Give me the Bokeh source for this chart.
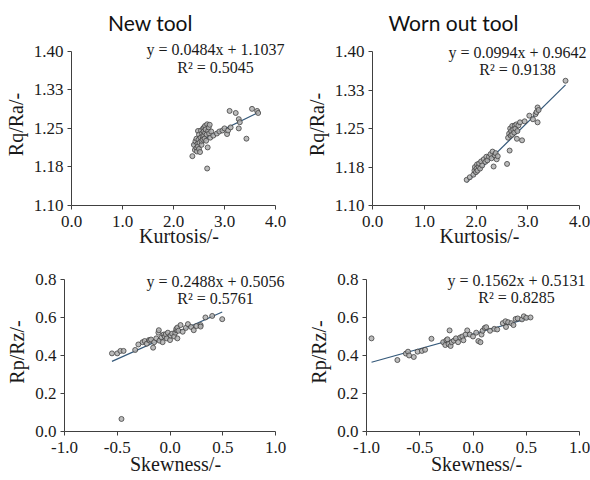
from bokeh.plotting import figure
from bokeh.models import Range1d, FixedTicker, Label, Plot
from bokeh.layouts import row, column
from bokeh.embed import file_html
from bokeh.resources import INLINE

# ---------------- data ----------------
titles = ["New tool", "Worn out tool"]

kurt_ticks = [0.0, 1.0, 2.0, 3.0, 4.0]
kurt_tick_labels = ["0.0", "1.0", "2.0", "3.0", "4.0"]
rqra_ticks = [1.10, 1.175, 1.25, 1.325, 1.40]
rqra_tick_labels = ["1.10", "1.18", "1.25", "1.33", "1.40"]
skew_ticks = [-1.0, -0.5, 0.0, 0.5, 1.0]
skew_tick_labels = ["-1.0", "-0.5", "0.0", "0.5", "1.0"]
rprz_ticks = [0.0, 0.2, 0.4, 0.6, 0.8]
rprz_tick_labels = ["0.0", "0.2", "0.4", "0.6", "0.8"]

# New tool: kurtosis vs Rq/Ra
kurt_new = [2.37, 2.40, 2.42, 2.43, 2.45, 2.45, 2.46, 2.47, 2.48, 2.48,
            2.49, 2.50, 2.50, 2.51, 2.52, 2.53, 2.54, 2.55, 2.55, 2.56,
            2.57, 2.58, 2.58, 2.59, 2.60, 2.60, 2.61, 2.62, 2.62, 2.63,
            2.64, 2.65, 2.66, 2.66, 2.67, 2.68, 2.69, 2.70, 2.71, 2.72,
            2.74, 2.78, 2.85, 2.90, 2.96, 3.00, 3.05, 3.07, 3.10, 3.12,
            3.22, 3.28, 3.28, 3.30, 3.43, 3.54, 3.64, 3.66]
rqra_new = [1.196, 1.218, 1.208, 1.225, 1.212, 1.230, 1.205, 1.220, 1.245, 1.215,
            1.228, 1.210, 1.238, 1.222, 1.204, 1.232, 1.246, 1.218, 1.226, 1.240,
            1.235, 1.250, 1.228, 1.244, 1.236, 1.252, 1.230, 1.241, 1.255, 1.248,
            1.226, 1.238, 1.172, 1.258, 1.213, 1.245, 1.252, 1.240, 1.257, 1.232,
            1.244, 1.236, 1.240, 1.244, 1.246, 1.250, 1.239, 1.246, 1.284, 1.252,
            1.280, 1.268, 1.250, 1.262, 1.230, 1.288, 1.284, 1.280]

# Worn out tool: kurtosis vs Rq/Ra
kurt_worn = [1.82, 1.88, 1.95, 1.97, 1.98, 2.00, 2.01, 2.02, 2.03, 2.05,
             2.06, 2.08, 2.10, 2.12, 2.15, 2.18, 2.20, 2.22, 2.25, 2.28,
             2.30, 2.32, 2.34, 2.36, 2.38, 2.40, 2.42, 2.60, 2.62, 2.64,
             2.65, 2.66, 2.67, 2.68, 2.70, 2.70, 2.72, 2.74, 2.75, 2.76,
             2.78, 2.79, 2.80, 2.82, 2.85, 2.89, 2.94, 3.03, 3.10, 3.15,
             3.17, 3.19, 3.19, 3.21, 3.73]
rqra_worn = [1.150, 1.155, 1.160, 1.168, 1.175, 1.165, 1.172, 1.180, 1.168, 1.176,
             1.182, 1.172, 1.186, 1.178, 1.190, 1.185, 1.195, 1.188, 1.195, 1.200,
             1.192, 1.205, 1.176, 1.198, 1.202, 1.190, 1.196, 1.181, 1.232, 1.240,
             1.207, 1.250, 1.236, 1.245, 1.255, 1.238, 1.248, 1.242, 1.256, 1.250,
             1.258, 1.230, 1.245, 1.256, 1.262, 1.227, 1.264, 1.275, 1.268, 1.278,
             1.282, 1.262, 1.291, 1.286, 1.343]

# New tool: skewness vs Rp/Rz
skew_new = [-0.55, -0.50, -0.47, -0.44, -0.46, -0.33, -0.30, -0.26, -0.24, -0.22,
            -0.20, -0.19, -0.18, -0.16, -0.15, -0.13, -0.11, -0.106, -0.10, -0.08,
            -0.07, -0.06, -0.05, -0.04, -0.03, -0.02, 0.00, 0.005, 0.02, 0.04,
            0.05, 0.06, 0.06, 0.07, 0.07, 0.08, 0.10, 0.12, 0.15, 0.17,
            0.20, 0.225, 0.25, 0.29, 0.29, 0.336, 0.40, 0.495]
rprz_new = [0.411, 0.411, 0.424, 0.424, 0.066, 0.429, 0.458, 0.470, 0.476, 0.462,
            0.481, 0.478, 0.484, 0.441, 0.470, 0.490, 0.520, 0.533, 0.478, 0.495,
            0.470, 0.510, 0.500, 0.512, 0.490, 0.520, 0.481, 0.505, 0.515, 0.500,
            0.520, 0.533, 0.540, 0.547, 0.490, 0.530, 0.560, 0.525, 0.545, 0.565,
            0.550, 0.533, 0.555, 0.560, 0.552, 0.600, 0.608, 0.591]

# Worn out tool: skewness vs Rp/Rz
skew_worn = [-0.953, -0.71, -0.63, -0.61, -0.60, -0.556, -0.52, -0.48, -0.45, -0.39,
             -0.28, -0.26, -0.25, -0.24, -0.23, -0.22, -0.21, -0.20, -0.18, -0.16,
             -0.14, -0.12, -0.10, -0.09, -0.07, -0.054, -0.03, 0.00, 0.03, 0.05,
             0.07, 0.08, 0.09, 0.11, 0.124, 0.16, 0.20, 0.227, 0.28, 0.305,
             0.31, 0.33, 0.36, 0.38, 0.40, 0.42, 0.46, 0.477, 0.50, 0.54]
rprz_worn = [0.490, 0.376, 0.410, 0.420, 0.400, 0.392, 0.420, 0.424, 0.430, 0.488,
             0.470, 0.455, 0.480, 0.485, 0.460, 0.532, 0.450, 0.470, 0.478, 0.490,
             0.470, 0.495, 0.500, 0.480, 0.510, 0.532, 0.510, 0.500, 0.520, 0.476,
             0.470, 0.510, 0.530, 0.545, 0.549, 0.530, 0.540, 0.537, 0.570, 0.580,
             0.550, 0.575, 0.570, 0.560, 0.592, 0.595, 0.590, 0.606, 0.598, 0.600]

# trendline: slope, intercept, R^2
fits = [
    (0.0484, 1.1037, 0.5045),
    (0.0994, 0.9642, 0.9138),
    (0.2488, 0.5056, 0.5761),
    (0.1562, 0.5131, 0.8285),
]

SERIF = "Liberation Serif"
SANS = "Lato"
AXIS_COLOR = "#404040"
TEXT_COLOR = "#1a1a1a"


def panel(xs, ys, fit, xt, xtl, yt, ytl, xlabel, ylabel,
          width, height, borders, axis_px, eq_pos, xlab_standoff):
    left, right, top, bottom = borders
    fw = width - left - right
    fh = height - top - bottom
    ax_w, ax_h = axis_px
    # frame extends a little beyond the axis extent (right / top) so the
    # trendline labels are not clipped; axis lines are bounded to the ticks
    x_end = xt[0] + (xt[-1] - xt[0]) * fw / ax_w
    y_end = yt[0] + (yt[-1] - yt[0]) * fh / ax_h
    p = figure(width=width, height=height, output_backend="svg", title=None,
               toolbar_location=None,
               x_range=Range1d(xt[0], x_end), y_range=Range1d(yt[0], y_end),
               min_border_left=left, min_border_right=right,
               min_border_top=top, min_border_bottom=bottom)
    p.outline_line_color = None
    p.grid.visible = False
    p.background_fill_color = "white"
    p.border_fill_color = "white"
    for ax, ticks, labels, lab in ((p.xaxis[0], xt, xtl, xlabel),
                                   (p.yaxis[0], yt, ytl, ylabel)):
        ax.ticker = FixedTicker(ticks=ticks)
        ax.bounds = (ticks[0], ticks[-1])
        ax.major_label_overrides = {t: l for t, l in zip(ticks, labels)}
        ax.axis_line_color = AXIS_COLOR
        ax.major_tick_line_color = AXIS_COLOR
        ax.major_tick_out = 4
        ax.major_tick_in = 0
        ax.minor_tick_line_color = None
        ax.major_label_text_font = SERIF
        ax.major_label_text_font_size = "17px"
        ax.major_label_text_color = TEXT_COLOR
        ax.axis_label = lab
        ax.axis_label_text_font = SERIF
        ax.axis_label_text_font_size = "20px"
        ax.axis_label_text_font_style = "normal"
        ax.axis_label_text_color = TEXT_COLOR
    p.xaxis[0].major_label_standoff = 6
    p.xaxis[0].axis_label_standoff = xlab_standoff
    p.yaxis[0].major_label_standoff = 4
    p.yaxis[0].axis_label_standoff = 4

    slope, intercept, r2 = fit
    x0, x1 = min(xs), max(xs)
    p.line([x0, x1], [slope * x0 + intercept, slope * x1 + intercept],
           line_color="#35597a", line_width=1.2)
    p.scatter(xs, ys, size=5, fill_color="#b0b0b0", line_color="#404040",
              line_width=0.8, fill_alpha=0.85)

    ex, ey1, ey2 = eq_pos
    p.add_layout(Label(x=ex, y=ey1, x_units="screen", y_units="screen",
                       text=f"y = {slope:.4f}x + {intercept:.4f}",
                       text_align="center", text_baseline="middle",
                       text_font=SERIF, text_font_size="16px",
                       text_color=TEXT_COLOR))
    p.add_layout(Label(x=ex, y=ey2, x_units="screen", y_units="screen",
                       text=f"R\u00b2 = {r2:.4f}",
                       text_align="center", text_baseline="middle",
                       text_font=SERIF, text_font_size="16px",
                       text_color=TEXT_COLOR))
    return p


# header with the two column titles
header = Plot(width=590, height=36, min_border=0, toolbar_location=None,
              output_backend="svg", outline_line_color=None, title=None,
              x_range=Range1d(0, 1), y_range=Range1d(0, 1))
for tx, t in zip((150, 453), titles):
    header.add_layout(Label(x=tx, y=14, x_units="screen", y_units="screen",
                            text=t, text_align="center", text_baseline="middle",
                            text_font=SANS, text_font_size="21px",
                            text_color="#111111"))

p1 = panel(kurt_new, rqra_new, fits[0],
           kurt_ticks, kurt_tick_labels, rqra_ticks, rqra_tick_labels,
           "Kurtosis/-", "Rq/Ra/-", 298, 220, (71, 12, 6, 48), (204, 158),
           (144, 156, 138), -5)
p2 = panel(kurt_worn, rqra_worn, fits[1],
           kurt_ticks, kurt_tick_labels, rqra_ticks, rqra_tick_labels,
           "Kurtosis/-", "Rq/Ra/-", 292, 220, (74, 4, 7, 51), (207, 154),
           (145, 153, 136), -5)
p3 = panel(skew_new, rprz_new, fits[2],
           skew_ticks, skew_tick_labels, rprz_ticks, rprz_tick_labels,
           "Skewness/-", "Rp/Rz/-", 298, 224, (64, 12, 16, 48), (211, 153),
           (151, 150, 133), -3)
p4 = panel(skew_worn, rprz_worn, fits[3],
           skew_ticks, skew_tick_labels, rprz_ticks, rprz_tick_labels,
           "Skewness/-", "Rp/Rz/-", 292, 224, (68, 4, 15, 49), (213, 153),
           (150, 151, 134), -3)

layout = column(header, row(p1, p2), row(p3, p4))

open("out.html", "w").write(file_html(layout, INLINE))
